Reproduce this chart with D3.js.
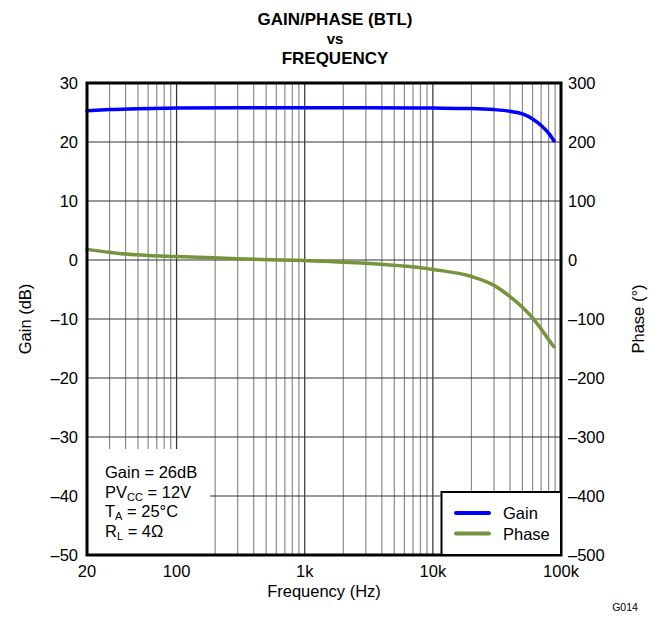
<!DOCTYPE html>
<html>
<head>
<meta charset="utf-8">
<script src="https://cdn.jsdelivr.net/npm/d3@7"></script>
<style>
  body { margin: 0; background: #fff; }
  svg text { font-family: Arial, "Liberation Sans", Helvetica, sans-serif; fill: #000; }
</style>
</head>
<body>
<div id="chart"></div>
<script>
// data
var gainFreq = [20, 30, 50, 100, 300, 1000, 3000, 10000, 20000, 30000, 40000, 50000, 60000, 70000, 80000, 88000];
var gainDb   = [25.3, 25.5, 25.65, 25.75, 25.8, 25.8, 25.8, 25.75, 25.68, 25.5, 25.2, 24.75, 23.9, 22.8, 21.5, 20.2];

var phaseFreq = [20, 30, 40, 60, 100, 300, 1000, 3000, 10000, 20000, 30000, 40000, 50000, 60000, 70000, 80000, 88000];
var phaseDeg  = [18, 13, 10, 7.5, 6, 2, -1, -5.5, -16, -28, -43, -62, -80, -98, -117, -135, -147];

var xTicks = [20, 100, 1000, 10000, 100000];
var xTickLabels = ["20", "100", "1k", "10k", "100k"];
var gainTicks = [30, 20, 10, 0, -10, -20, -30, -40, -50];
var phaseTicks = [300, 200, 100, 0, -100, -200, -300, -400, -500];

var svgWidth = 667;
var svgHeight = 618;

// plot box
var margin = { top: 83, right: 106, bottom: 63, left: 87 };
var width = svgWidth - margin.left - margin.right;
var height = svgHeight - margin.top - margin.bottom;

var svg = d3.select("#chart")
  .append("svg")
  .attr("width", svgWidth)
  .attr("height", svgHeight);

var g = svg.append("g")
  .attr("transform", `translate(${margin.left}, ${margin.top})`);

var x = d3.scaleLog().domain([20, 100000]).range([0, width]);
var yGain = d3.scaleLinear().domain([-50, 30]).range([height, 0]);
var yPhase = d3.scaleLinear().domain([-500, 300]).range([height, 0]);

// minor vertical grid
var minor = [];
[10, 100, 1000, 10000].forEach(function(dec) {
  for (var k = 2; k <= 9; k++) {
    var v = dec * k;
    if (v > 20 && v < 100000 && xTicks.indexOf(v) < 0) minor.push(v);
  }
});

g.selectAll(".minor")
  .data(minor)
  .enter()
  .append("line")
  .attr("x1", d => x(d)).attr("x2", d => x(d))
  .attr("y1", 0).attr("y2", height)
  .attr("stroke", "#8a8a8a")
  .attr("stroke-width", 1.2);

g.selectAll(".major")
  .data(xTicks.slice(1, -1))
  .enter()
  .append("line")
  .attr("x1", d => x(d)).attr("x2", d => x(d))
  .attr("y1", 0).attr("y2", height)
  .attr("stroke", "#333")
  .attr("stroke-width", 1.2);

g.selectAll(".hgrid")
  .data(gainTicks.slice(1, -1))
  .enter()
  .append("line")
  .attr("x1", 0).attr("x2", width)
  .attr("y1", d => yGain(d)).attr("y2", d => yGain(d))
  .attr("stroke", "#333")
  .attr("stroke-width", 1.2);

// white patch behind the conditions text
g.append("rect")
  .attr("x", 0)
  .attr("y", 366)
  .attr("width", 123)
  .attr("height", height - 366)
  .attr("fill", "#fff");

var line = d3.line().curve(d3.curveMonotoneX);

g.append("path")
  .attr("d", line(phaseFreq.map((f, i) => [x(f), yPhase(phaseDeg[i])])))
  .attr("fill", "none")
  .attr("stroke", "#77933c")
  .attr("stroke-width", 3.5)
  .attr("stroke-linecap", "round");

g.append("path")
  .attr("d", line(gainFreq.map((f, i) => [x(f), yGain(gainDb[i])])))
  .attr("fill", "none")
  .attr("stroke", "#0000ff")
  .attr("stroke-width", 3.5)
  .attr("stroke-linecap", "round");

// frame
g.append("rect")
  .attr("width", width)
  .attr("height", height)
  .attr("fill", "none")
  .attr("stroke", "#000")
  .attr("stroke-width", 3);

// tick labels
g.selectAll(".xl")
  .data(xTicks)
  .enter()
  .append("text")
  .attr("x", d => x(d))
  .attr("y", height + 22)
  .attr("text-anchor", "middle")
  .attr("font-size", "16.5px")
  .text((d, i) => xTickLabels[i]);

g.selectAll(".yl")
  .data(gainTicks)
  .enter()
  .append("text")
  .attr("x", -9)
  .attr("y", d => yGain(d) + 6)
  .attr("text-anchor", "end")
  .attr("font-size", "16.5px")
  .text(d => d < 0 ? "\u2013" + Math.abs(d) : d);

g.selectAll(".yr")
  .data(phaseTicks)
  .enter()
  .append("text")
  .attr("x", width + 7)
  .attr("y", d => yPhase(d) + 6)
  .attr("text-anchor", "start")
  .attr("font-size", "16.5px")
  .text(d => d < 0 ? "\u2013" + Math.abs(d) : d);

// axis titles
svg.append("text")
  .attr("x", margin.left + width / 2)
  .attr("y", 597)
  .attr("text-anchor", "middle")
  .attr("font-size", "16.5px")
  .text("Frequency (Hz)");

svg.append("text")
  .attr("transform", "translate(31, 319) rotate(-90)")
  .attr("text-anchor", "middle")
  .attr("font-size", "16.5px")
  .text("Gain (dB)");

svg.append("text")
  .attr("transform", "translate(644, 319) rotate(-90)")
  .attr("text-anchor", "middle")
  .attr("font-size", "16.5px")
  .text("Phase (°)");

// title
var title = ["GAIN/PHASE (BTL)", "vs", "FREQUENCY"];
svg.selectAll(".title")
  .data(title)
  .enter()
  .append("text")
  .attr("x", 335)
  .attr("y", (d, i) => [25, 44, 64][i])
  .attr("text-anchor", "middle")
  .attr("font-size", (d, i) => i == 1 ? "15px" : "17px")
  .attr("font-weight", "bold")
  .text(d => d);

// conditions text
var cond = svg.append("g").attr("font-size", "16.5px");
var t1 = cond.append("text").attr("x", 105).attr("y", 478);
t1.text("Gain = 26dB");
var t2 = cond.append("text").attr("x", 105).attr("y", 497.5);
t2.append("tspan").text("PV");
t2.append("tspan").attr("dy", 3).attr("font-size", "11px").text("CC");
t2.append("tspan").attr("dy", -3).text(" = 12V");
var t3 = cond.append("text").attr("x", 105).attr("y", 517);
t3.append("tspan").text("T");
t3.append("tspan").attr("dy", 3).attr("font-size", "11px").text("A");
t3.append("tspan").attr("dy", -3).text(" = 25°C");
var t4 = cond.append("text").attr("x", 105).attr("y", 537);
t4.append("tspan").text("R");
t4.append("tspan").attr("dy", 3).attr("font-size", "11px").text("L");
t4.append("tspan").attr("dy", -3).text(" = 4Ω");

// legend
var legend = svg.append("g");
legend.append("rect")
  .attr("x", 441.5)
  .attr("y", 492)
  .attr("width", 119.5)
  .attr("height", 63)
  .attr("fill", "#fff")
  .attr("stroke", "#000")
  .attr("stroke-width", 2);

var legendItems = [["Gain", "#0000ff"], ["Phase", "#77933c"]];
legendItems.forEach(function(item, i) {
  legend.append("line")
    .attr("x1", 456).attr("x2", 489)
    .attr("y1", 513 + i * 20.5).attr("y2", 513 + i * 20.5)
    .attr("stroke", item[1])
    .attr("stroke-width", 4)
    .attr("stroke-linecap", "round");
  legend.append("text")
    .attr("x", 503)
    .attr("y", 519 + i * 20.5)
    .attr("font-size", "16.5px")
    .text(item[0]);
});

svg.append("text")
  .attr("x", 625)
  .attr("y", 611)
  .attr("text-anchor", "middle")
  .attr("font-size", "10.5px")
  .text("G014");
</script>
</body>
</html>
